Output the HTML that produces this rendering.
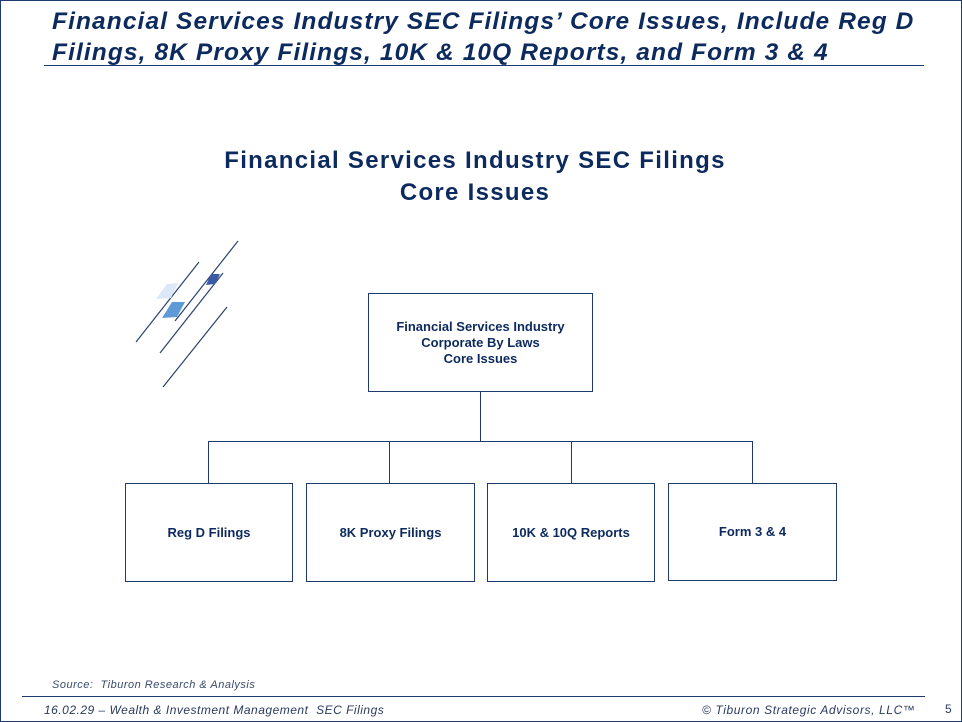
<!DOCTYPE html>
<html><head><style>
body{margin:0;width:962px;height:722px;position:relative;background:#fff;font-family:"Liberation Sans",sans-serif;overflow:hidden}
.frame{position:absolute;left:0;top:0;width:960px;height:720px;border:1px solid #1f3a6e}
.t{position:absolute;color:#0c2a5e}
.box{position:absolute;border:1px solid #1f3a6e;background:#fff;display:flex;align-items:center;justify-content:center;text-align:center;font-size:13px;font-weight:bold;color:#0c2a5e;line-height:16px}
</style></head><body>
<div class="frame"></div>
<div class="t" style="left:52px;top:6px;font-size:24.5px;font-weight:bold;font-style:italic;line-height:31px;white-space:nowrap;letter-spacing:1.1px">Financial Services Industry SEC Filings’ Core Issues, Include Reg D<br>Filings, 8K Proxy Filings, 10K &amp; 10Q Reports, and Form 3 &amp; 4</div>
<div style="position:absolute;left:44px;top:65px;width:880px;height:1px;background:#1f3a6e"></div>
<div class="t" style="left:0;width:950px;top:145px;text-align:center;font-size:24px;font-weight:bold;line-height:32px;letter-spacing:1.3px">Financial Services Industry SEC Filings<br>Core Issues</div>
<svg style="position:absolute;left:0;top:0" width="962" height="722">
<g stroke="#2a4270" stroke-width="1.2">
<line x1="199" y1="262" x2="136" y2="342"/>
<line x1="238" y1="241" x2="175" y2="321"/>
<line x1="223" y1="273" x2="160" y2="353"/>
<line x1="227" y1="307" x2="163" y2="387"/>
</g>
<polygon points="167,284 178,283 171,298 156,299" fill="#dce8f8"/>
<polygon points="172,302 185,302 177,317 162,318" fill="#5e9bd6"/>
<polygon points="211,274 220,274 215,284 206,285" fill="#3a5aa8"/>
<g stroke="#1f3a6e" stroke-width="1" fill="none">
<line x1="480.5" y1="391" x2="480.5" y2="441"/>
<line x1="208.5" y1="441.5" x2="752.5" y2="441.5"/>
<line x1="208.5" y1="441" x2="208.5" y2="484"/>
<line x1="389.5" y1="441" x2="389.5" y2="484"/>
<line x1="571.5" y1="441" x2="571.5" y2="484"/>
<line x1="752.5" y1="441" x2="752.5" y2="484"/>
</g>
</svg>
<div class="box" style="left:368px;top:293px;width:223px;height:97px">Financial Services Industry<br>Corporate By Laws<br>Core Issues</div>
<div class="box" style="left:125px;top:483px;width:166px;height:97px">Reg D Filings</div>
<div class="box" style="left:306px;top:483px;width:167px;height:97px">8K Proxy Filings</div>
<div class="box" style="left:487px;top:483px;width:166px;height:97px">10K &amp; 10Q Reports</div>
<div class="box" style="left:668px;top:483px;width:167px;height:96px">Form 3 &amp; 4</div>
<div class="t" style="left:52px;top:679px;font-size:11px;font-style:italic;color:#3a4a6a;letter-spacing:0.5px">Source:&nbsp; Tiburon Research &amp; Analysis</div>
<div style="position:absolute;left:22px;top:696px;width:903px;height:1px;background:#1f3a6e"></div>
<div class="t" style="left:44px;top:703px;font-size:12px;font-style:italic;color:#2a3a5e;letter-spacing:0.5px">16.02.29 – Wealth &amp; Investment Management&nbsp; SEC Filings</div>
<div class="t" style="left:702px;top:703px;font-size:12px;font-style:italic;color:#2a3a5e;letter-spacing:0.6px">© Tiburon Strategic Advisors, LLC™</div>
<div class="t" style="left:945px;top:702px;font-size:12px;color:#2a3a5e">5</div>
</body></html>
